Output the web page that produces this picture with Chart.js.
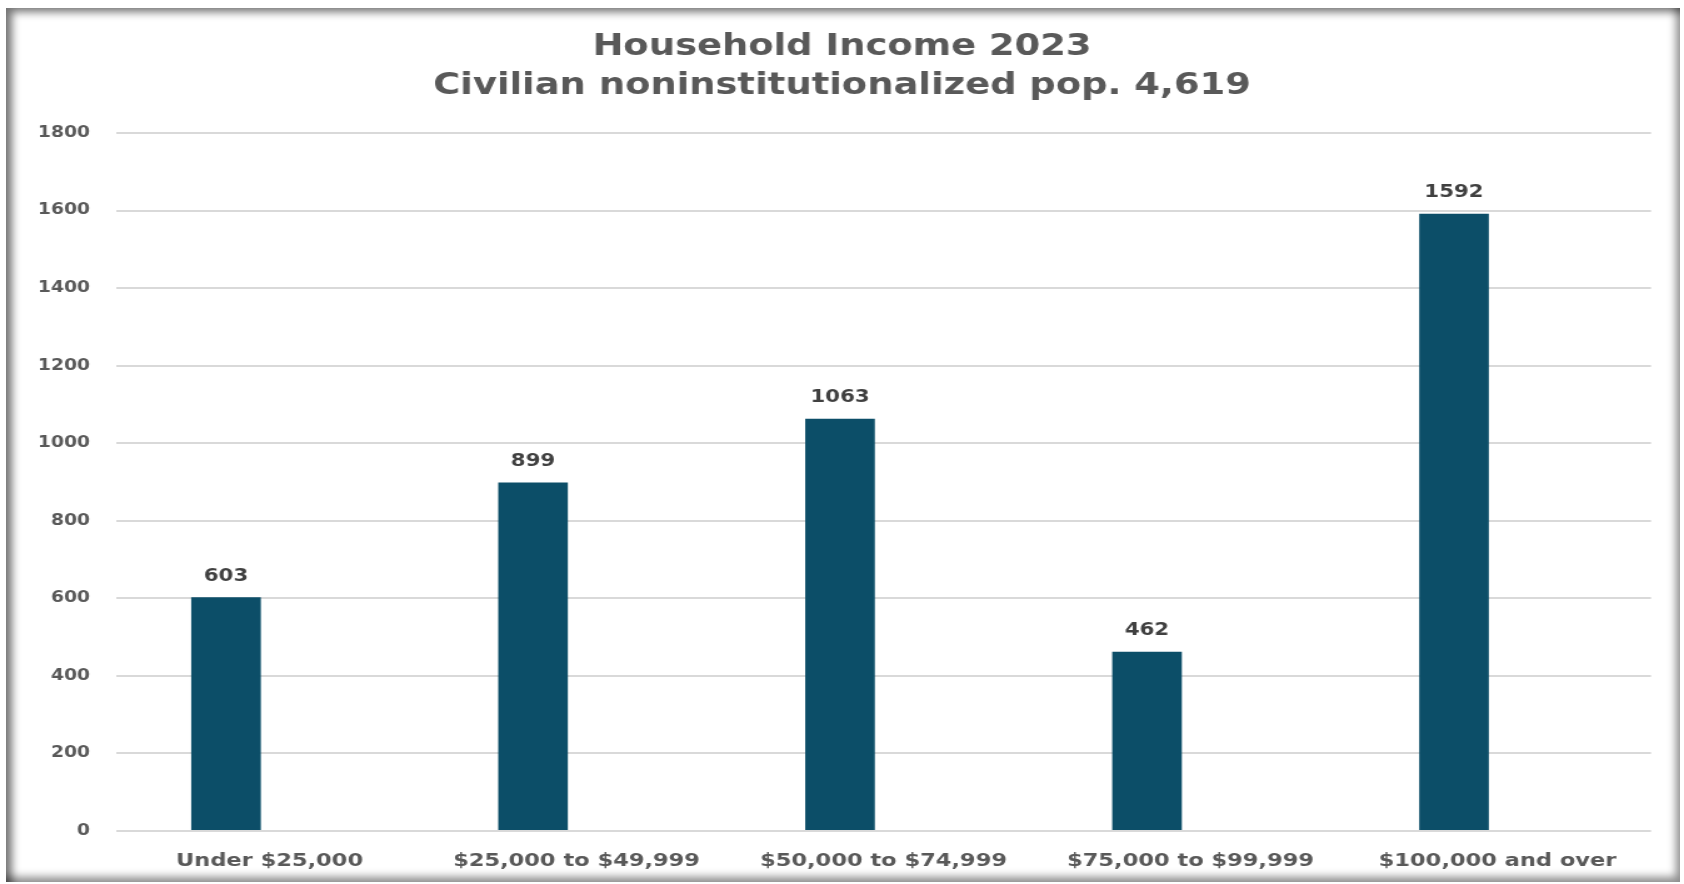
<!DOCTYPE html>
<html>
<head>
<meta charset="utf-8">
<title>Household Income 2023</title>
<script src="https://cdn.jsdelivr.net/npm/chart.js@4.4.1/dist/chart.umd.min.js"></script>
<style>
  html, body { margin: 0; padding: 0; background: #fff; overflow: hidden; }
  #frame {
    position: absolute; left: 6px; top: 8px; width: 1674px; height: 874px;
    box-shadow: inset 9px 7px 9px -3px rgba(0,0,0,0.55), inset -7px -8px 8px -3px rgba(0,0,0,0.45);
  }
  /* chart is drawn narrower and stretched out sideways */
  #wrap {
    position: absolute; left: 0; top: 0; width: 1347px; height: 884px;
    transform: scaleX(1.2502); transform-origin: 0 0;
  }
</style>
</head>
<body>
<div id="frame"></div>
<div id="wrap"><canvas id="incomeChart"></canvas></div>
<script>
// chart data
const titleLines = ['Household Income 2023', 'Civilian noninstitutionalized pop. 4,619'];
const incomeBrackets = ['Under $25,000', '$25,000 to $49,999', '$50,000 to $74,999', '$75,000 to $99,999', '$100,000 and over'];
const households = [603, 899, 1063, 462, 1592];
// second series of the clustered layout has no values
const secondSeries = [null, null, null, null, null];
const valueTicks = [0, 200, 400, 600, 800, 1000, 1200, 1400, 1600, 1800];

const FONT = "'DejaVu Sans', Verdana, sans-serif";
const barColor = '#0c4e68';

// value above each bar
const barValues = {
  id: 'barValues',
  afterDatasetsDraw(chart) {
    const ctx = chart.ctx;
    const meta = chart.getDatasetMeta(0);
    ctx.save();
    ctx.font = `bold 17px ${FONT}`;
    ctx.fillStyle = '#404040';
    ctx.textAlign = 'center';
    ctx.textBaseline = 'middle';
    meta.data.forEach((bar, i) => {
      ctx.fillText(households[i], bar.x, bar.y - 21);
    });
    ctx.restore();
  }
};

new Chart(document.getElementById('incomeChart'), {
  type: 'bar',
  data: {
    labels: incomeBrackets,
    datasets: [
      { label: 'Households', data: households, backgroundColor: barColor },
      { label: '', data: secondSeries, backgroundColor: barColor }
    ]
  },
  options: {
    responsive: true,
    maintainAspectRatio: false,
    animation: false,
    categoryPercentage: 0.567,
    barPercentage: 0.8,
    layout: { padding: { left: 26.4, right: 26.4, top: 0, bottom: 0 } },
    plugins: {
      legend: { display: false },
      tooltip: { enabled: false },
      title: {
        display: true,
        text: titleLines,
        color: '#595959',
        font: { family: FONT, size: 29.5, weight: 'bold', lineHeight: 1.322 },
        padding: { top: 28, bottom: 27 }
      }
    },
    scales: {
      x: {
        grid: { display: false },
        border: { display: false },
        ticks: {
          color: '#595959',
          font: { family: FONT, size: 18, weight: 'bold' },
          padding: 12,
          maxRotation: 0
        },
        afterFit(axis) { axis.height = 53; }
      },
      y: {
        min: 0,
        max: 1800,
        afterBuildTicks(axis) { axis.ticks = valueTicks.map(v => ({ value: v })); },
        grid: { color: '#d9d9d9', lineWidth: 2, drawTicks: false },
        border: { display: false },
        ticks: {
          color: '#595959',
          font: { family: FONT, size: 15, weight: 'bold' },
          padding: 20.8,
          callback: (v) => String(v)
        },
        afterFit(axis) { axis.width = 66.4; }
      }
    }
  },
  plugins: [barValues]
});
</script>
</body>
</html>
